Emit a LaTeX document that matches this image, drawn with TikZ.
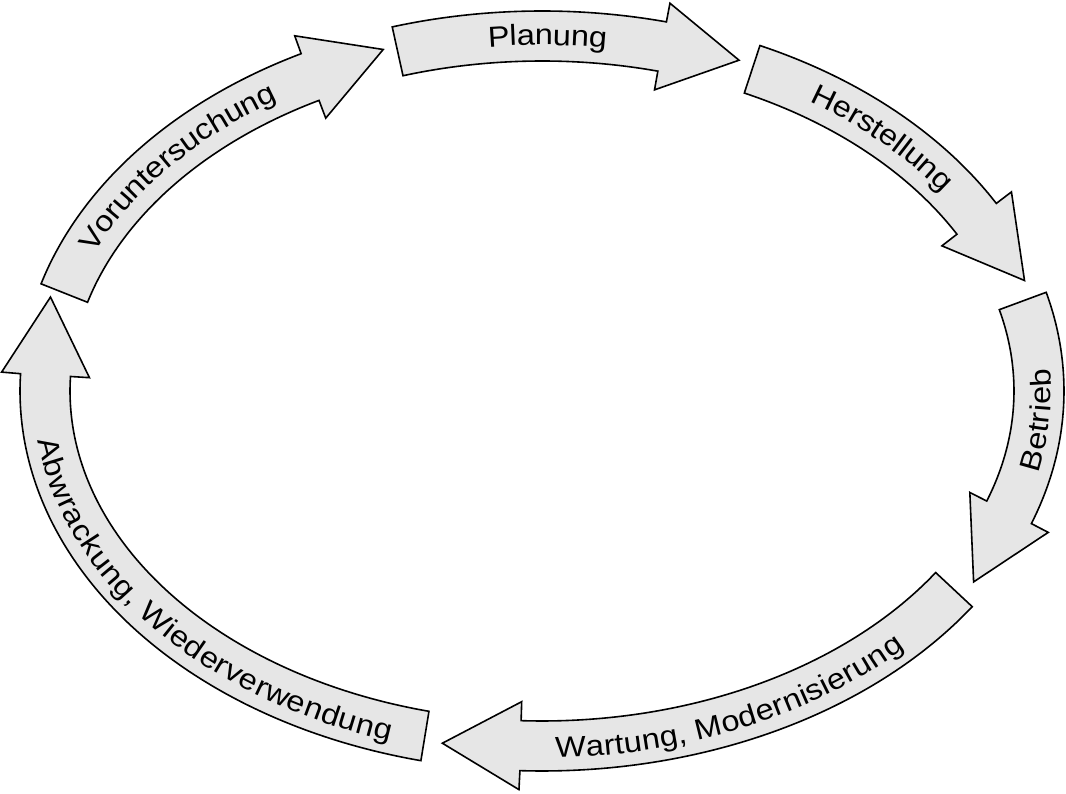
\documentclass[tikz,border=0pt]{standalone}
\usepackage{fontspec}
\setmainfont{Liberation Sans}[FakeStretch=1.12]
\usetikzlibrary{calc,decorations.text}
\definecolor{arrowfill}{RGB}{230,230,230}
\def\cx{542}\def\cy{402}\def\ra{497}\def\rb{355}\def\hw{25}
\tikzset{arrowband/.style={draw=black,line width=1.6pt,fill=arrowfill,line join=miter}}
% #1 name, #2 tail angle, #3 head-base angle (clockwise: #2 > #3)
\newcommand\cycarrow[3]{%
  \pgfmathsetmacro\aS{#2}\pgfmathsetmacro\aH{#3}%
  \coordinate (#1-b) at ({\cx+\ra*cos(\aH)},{\cy+\rb*sin(\aH)});
  \coordinate (#1-t) at ({\cx+\ra*cos(\aH)+\ra*sin(\aH)},{\cy+\rb*sin(\aH)-\rb*cos(\aH)});
  \coordinate (#1-tip) at ($(#1-b)!78pt!(#1-t)$);
  \coordinate (#1-ob) at ($(#1-b)!44pt!90:(#1-t)$);
  \coordinate (#1-ib) at ($(#1-b)!44pt!-90:(#1-t)$);
  \draw[arrowband]
    plot[domain=0:1,samples=60,smooth,variable=\x]
      ({\cx+\ra*cos(\aS+(\aH-\aS)*\x)+\hw*nx(\aS+(\aH-\aS)*\x)},
       {\cy+\rb*sin(\aS+(\aH-\aS)*\x)+\hw*ny(\aS+(\aH-\aS)*\x)})
    -- (#1-ob) -- (#1-tip) -- (#1-ib)
    -- plot[domain=0:1,samples=60,smooth,variable=\x]
      ({\cx+\ra*cos(\aH+(\aS-\aH)*\x)-\hw*nx(\aH+(\aS-\aH)*\x)},
       {\cy+\rb*sin(\aH+(\aS-\aH)*\x)-\hw*ny(\aH+(\aS-\aH)*\x)})
    -- cycle;
}
% #1 start angle, #2 end angle, #3 raise, #4 text
\newcommand\cyctext[4]{%
  \pgfmathsetmacro\tS{#1}\pgfmathsetmacro\tE{#2}%
  \begin{scope}[shift={(\cx,\cy)}]
  \path[decorate,decoration={text along path,
      text={|\fontsize{29}{32}\selectfont|#4},text align=center,raise=#3}]
    plot[domain=0:1,samples=41,variable=\x]
      ({\ra*cos(\tS+(\tE-\tS)*\x)},{\rb*sin(\tS+(\tE-\tS)*\x)});
  \end{scope}
}
\begin{document}
\begin{tikzpicture}[x=1pt,y=1pt,
  declare function={
    nx(\t)=3.55*cos(\t)/sqrt((3.55*cos(\t))^2+(4.97*sin(\t))^2);
    ny(\t)=4.97*sin(\t)/sqrt((3.55*cos(\t))^2+(4.97*sin(\t))^2);
  }]
\useasboundingbox (0,0) rectangle (1066,793);
\cycarrow{plan}{106.9}{76}
\cycarrow{herst}{65}{29}
\cycarrow{betr}{14.7}{-20}
\cycarrow{wart}{-34}{-92.5}
\cycarrow{abw}{-103.6}{-182.6}
\cycarrow{vor}{164}{117.8}
\cyctext{104.35}{74.35}{-9pt}{Planung}
\cyctext{65.25}{25.25}{-9pt}{Herstellung}
\cyctext{164.25}{116.25}{-9pt}{Voruntersuchung}
\cyctext{-22.5}{13.5}{-12pt}{Betrieb}
\cyctext{-97.5}{-33.5}{-12pt}{Wartung, Modernisierung}
\cyctext{176.5}{260.5}{-12pt}{Abwrackung, Wiederverwendung}
\end{tikzpicture}
\end{document}
